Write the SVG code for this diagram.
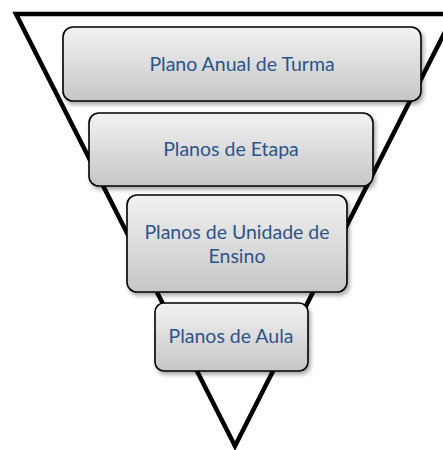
<svg xmlns="http://www.w3.org/2000/svg" width="443" height="450" viewBox="0 0 443 450">
  <defs>
    <linearGradient id="boxFill" x1="0" y1="0" x2="0" y2="1">
      <stop offset="0" stop-color="#f2f2f2"/>
      <stop offset="1" stop-color="#c6c6c6"/>
    </linearGradient>
    <filter id="shadow" x="-10%" y="-10%" width="125%" height="135%">
      <feGaussianBlur in="SourceAlpha" stdDeviation="2"/>
      <feOffset dx="2" dy="3" result="b"/>
      <feComponentTransfer><feFuncA type="linear" slope="0.35"/></feComponentTransfer>
      <feMerge><feMergeNode/><feMergeNode in="SourceGraphic"/></feMerge>
    </filter>
  </defs>
  <style>
    .box { fill: url(#boxFill); stroke: #000; stroke-width: 1.6; filter: url(#shadow); }
    .lbl { font-family: Lato, "Open Sans", sans-serif; font-size: 19.5px; fill: #2d5489; text-anchor: middle; }
    .funnel { fill: #fff; stroke: #000; stroke-width: 4.5; stroke-linejoin: miter; }
  </style>
  <rect width="443" height="450" fill="#fff"/>
  <g id="connectors">
    <polygon class="funnel" points="16,14 454,14 235,446"/>
  </g>
  <g id="node1">
    <rect class="box" x="63" y="27" width="358" height="74" rx="10"/>
    <text class="lbl" x="242" y="71">Plano Anual de Turma</text>
  </g>
  <g id="node2">
    <rect class="box" x="89" y="113" width="284" height="73" rx="10"/>
    <text class="lbl" x="231" y="156">Planos de Etapa</text>
  </g>
  <g id="node3">
    <rect class="box" x="127" y="195" width="220" height="97" rx="10"/>
    <text class="lbl" x="237" y="239">Planos de Unidade de</text>
    <text class="lbl" x="237" y="263">Ensino</text>
  </g>
  <g id="node4">
    <rect class="box" x="155" y="303" width="153" height="68" rx="9"/>
    <text class="lbl" x="231" y="343">Planos de Aula</text>
  </g>
</svg>
